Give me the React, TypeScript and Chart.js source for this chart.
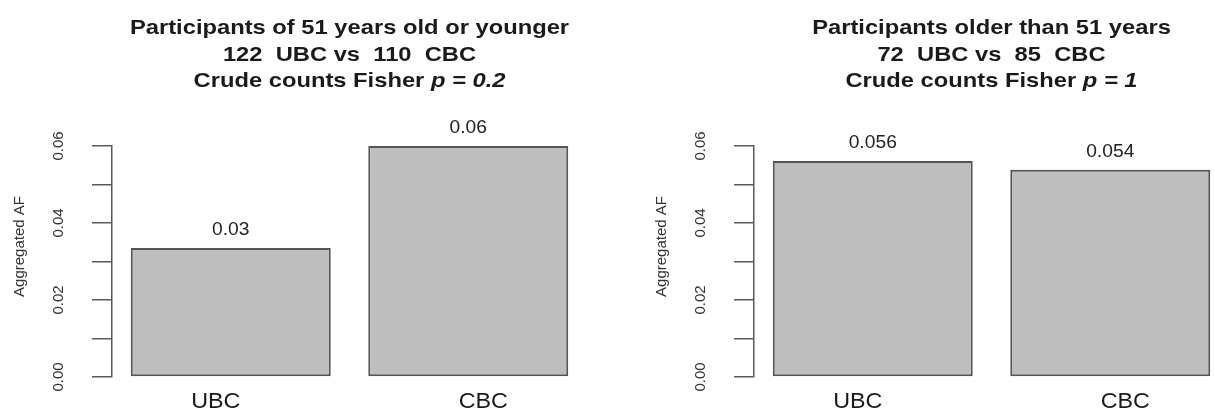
import React, { useEffect, useRef } from "react";
import { Chart, registerables } from "chart.js";

Chart.register(...registerables);

// ---- data ----
const categories = ["UBC", "CBC"];
const youngValues = [0.0335, 0.06];
const olderValues = [0.0561, 0.0538];
const youngValueLabels = ["0.03", "0.06"];
const olderValueLabels = ["0.056", "0.054"];
const yTickLabels = ["0.00", "", "0.02", "", "0.04", "", "0.06"];
const yAxisTitle = "Aggregated AF";
const youngTitleLines = ["Participants of 51 years old or younger", "122  UBC vs  110  CBC"];
const youngTitleLast = "Crude counts Fisher ";
const youngP = "p = 0.2";
const olderTitleLines = ["Participants older than 51 years", "72  UBC vs  85  CBC"];
const olderTitleLast = "Crude counts Fisher ";
const olderP = "p = 1";

const FONT = "'Liberation Sans', Arial, Helvetica, sans-serif";
const TEXT = "#1a1a1a";
const LINE = "#5a5a5a";

// draw text horizontally widened (the reference render is slightly stretched)
function wideText(ctx: any, text: string, x: number, y: number, sx: number, align: string) {
  ctx.save();
  ctx.translate(x, y);
  ctx.scale(sx, 1);
  ctx.textAlign = align;
  ctx.fillText(text, 0, 0);
  ctx.restore();
}

const panelPlugin = {
  id: "panelText",
  afterDatasetsDraw(chart: any, _args: any, opts: any) {
    const ctx = chart.ctx;
    const meta = chart.getDatasetMeta(0);
    ctx.save();
    ctx.fillStyle = "#222";
    ctx.font = `17.5px ${FONT}`;
    ctx.textBaseline = "alphabetic";
    meta.data.forEach((bar: any, i: number) => {
      wideText(ctx, opts.valueLabels[i], bar.x, bar.y - 13, 1.1, "center");
    });
    ctx.restore();
  },
  afterDraw(chart: any, _args: any, opts: any) {
    const ctx = chart.ctx;
    const area = chart.chartArea;
    const cx = (area.left + area.right) / 2;
    const sx = 1.13;
    ctx.save();
    ctx.fillStyle = TEXT;
    ctx.textBaseline = "alphabetic";
    ctx.font = `bold 21px ${FONT}`;
    const baselines = [34, 60.5, 87];
    opts.titleLines.forEach((t: string, i: number) => wideText(ctx, t, cx, baselines[i], sx, "center"));
    // last line with bold-italic p part
    ctx.font = `bold 21px ${FONT}`;
    const w1 = ctx.measureText(opts.titleLast).width * sx;
    ctx.font = `italic bold 21px ${FONT}`;
    const w2 = ctx.measureText(opts.pText).width * sx;
    const start = cx - (w1 + w2) / 2;
    ctx.font = `bold 21px ${FONT}`;
    wideText(ctx, opts.titleLast, start, baselines[2], sx, "left");
    ctx.font = `italic bold 21px ${FONT}`;
    wideText(ctx, opts.pText, start + w1, baselines[2], sx, "left");
    // category labels
    const xScale = chart.scales.x;
    ctx.font = `22px ${FONT}`;
    ctx.fillStyle = TEXT;
    categories.forEach((c, i) => {
      const x = xScale.getPixelForValue(i) + (i === 0 ? -15 : 15);
      wideText(ctx, c, x, area.bottom + 30.5, 1.06, "center");
    });
    // y axis title
    ctx.fillStyle = "#333";
    ctx.font = `15px ${FONT}`;
    ctx.translate(area.left - 92, (area.top + area.bottom) / 2 - 15);
    ctx.rotate(-Math.PI / 2);
    ctx.textAlign = "center";
    ctx.textBaseline = "middle";
    ctx.fillText(yAxisTitle, 0, 0);
    ctx.restore();
  },
};

function Panel({ values, valueLabels, titleLines, titleLast, pText, left }: any) {
  const ref = useRef<HTMLCanvasElement>(null);
  useEffect(() => {
    const chart = new Chart(ref.current as HTMLCanvasElement, {
      type: "bar",
      data: {
        labels: categories,
        datasets: [
          {
            data: values,
            backgroundColor: "#bebebe",
            borderColor: "#555555",
            borderWidth: 2,
            borderSkipped: false,
            categoryPercentage: 1,
            barPercentage: 0.842,
          },
        ],
      },
      options: {
        responsive: false,
        animation: false,
        devicePixelRatio: 1,
        layout: { padding: { top: 146, right: 55, left: 0, bottom: 0 } },
        plugins: {
          legend: { display: false },
          title: { display: false },
          tooltip: { enabled: false },
          panelText: { valueLabels, titleLines, titleLast, pText },
        } as any,
        scales: {
          x: {
            type: "category",
            offset: true,
            grid: { display: false, drawTicks: false },
            border: { display: false },
            ticks: { display: false },
            afterFit: (s: any) => {
              s.height = 35;
            },
          },
          y: {
            type: "linear",
            min: 0,
            max: 0.06,
            grid: {
              display: true,
              drawOnChartArea: false,
              drawTicks: true,
              tickLength: 20,
              color: LINE,
              lineWidth: 1.5,
            },
            border: { display: true, color: LINE, width: 1.5 },
            ticks: {
              stepSize: 0.01,
              minRotation: 90,
              maxRotation: 90,
              crossAlign: "center",
              padding: 19,
              color: "#333",
              font: { family: FONT, size: 15 },
              callback: (_v: any, i: number) => yTickLabels[i],
            },
            title: { display: false },
            afterFit: (s: any) => {
              s.width = 112;
            },
          },
        },
      },
      plugins: [panelPlugin],
    } as any);
    return () => chart.destroy();
  }, []);
  return (
    <canvas
      ref={ref}
      width={642}
      height={412}
      style={{ position: "absolute", top: 0, left, width: 642, height: 412 }}
    />
  );
}

export default function App() {
  return (
    <div
      style={{
        position: "fixed",
        top: 0,
        left: 0,
        width: 1215,
        height: 412,
        overflow: "hidden",
        background: "#fff",
      }}
    >
      <Panel
        values={youngValues}
        valueLabels={youngValueLabels}
        titleLines={youngTitleLines}
        titleLast={youngTitleLast}
        pText={youngP}
        left={0}
      />
      <Panel
        values={olderValues}
        valueLabels={olderValueLabels}
        titleLines={olderTitleLines}
        titleLast={olderTitleLast}
        pText={olderP}
        left={642}
      />
    </div>
  );
}
